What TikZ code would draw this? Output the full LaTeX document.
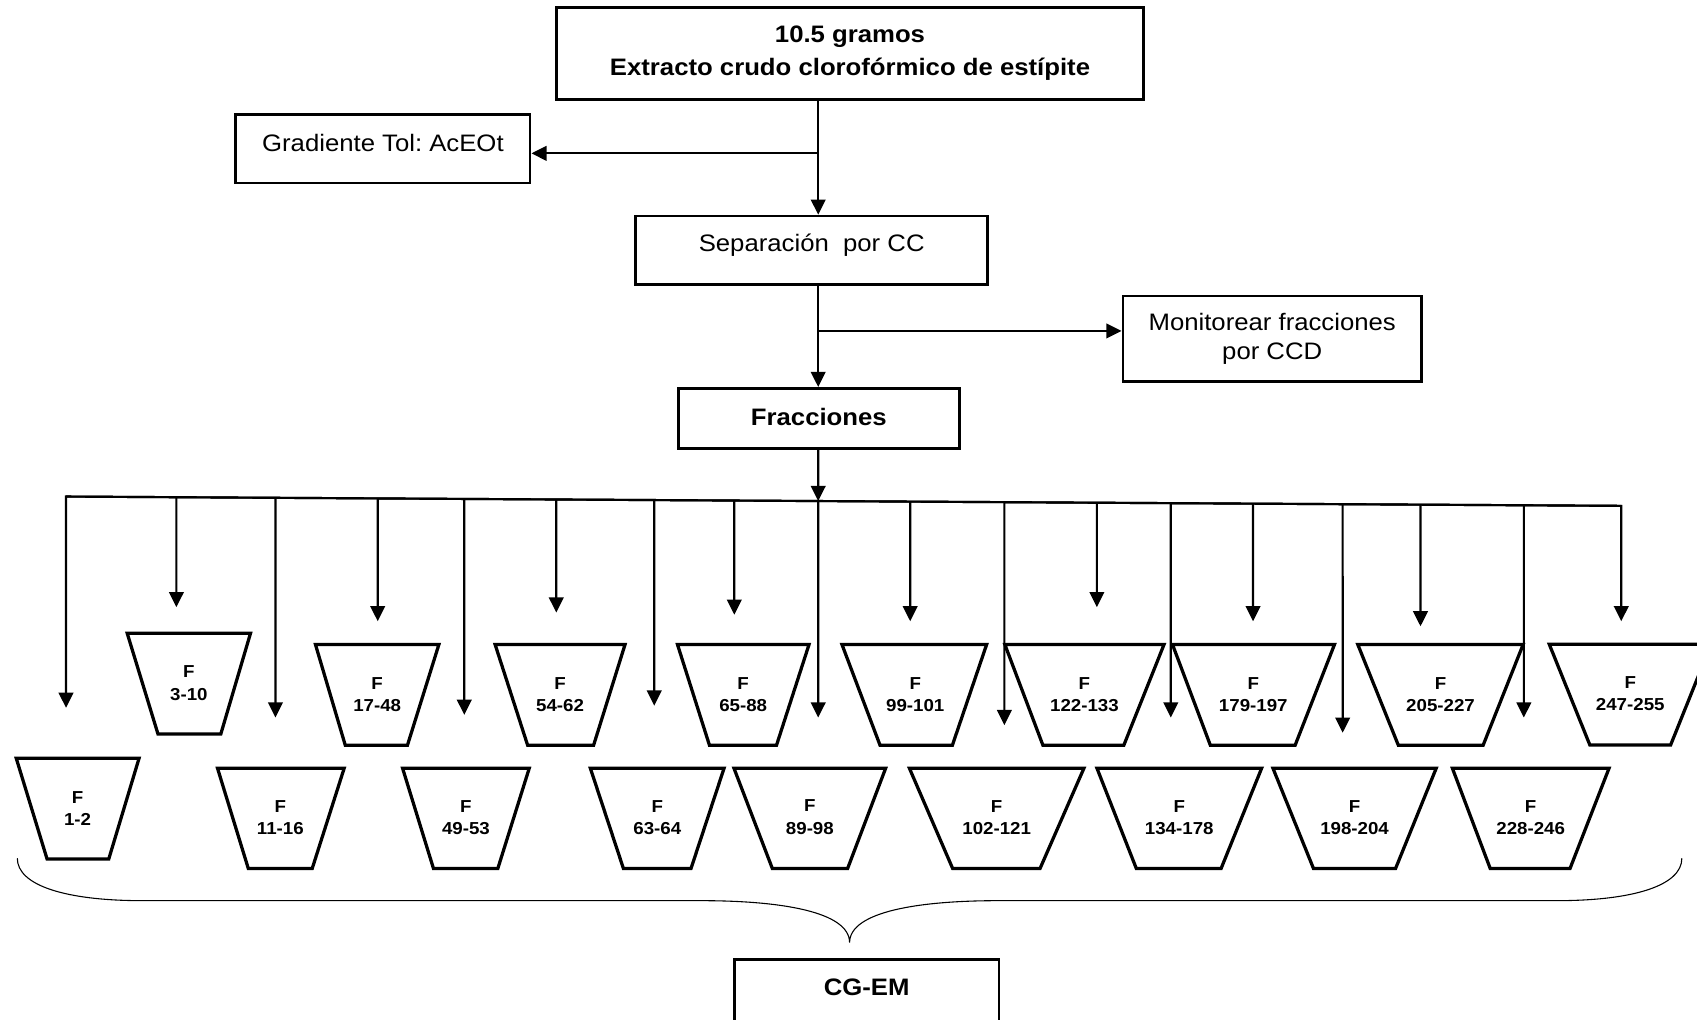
\documentclass[tikz,border=0pt]{standalone}
\usepackage{fontspec}
\setmainfont{Liberation Sans}[FakeStretch=1.08]
\usetikzlibrary{arrows.meta,calc}
\frenchspacing

\tikzset{every picture/.style={line width=2pt}}
\tikzset{
  box/.style={draw, line width=2.5pt, inner sep=0pt, font=\fontsize{22}{26}\selectfont},
  boldbox/.style={box, font=\fontsize{22}{26}\selectfont\bfseries},
  arr/.style={line width=2pt, -{Triangle[length=14pt,width=13.5pt]}},
  ftrap/.style={line width=3pt, line join=miter},
  flabel/.style={font=\fontsize{16}{20.6}\selectfont\bfseries, align=center, inner sep=0pt},
  brace/.style={line width=1pt},
}

\begin{document}
\begin{tikzpicture}[x=1pt,y=1pt,yscale=-1,xscale=1]
\useasboundingbox (0,0) rectangle (1568,942);

%Shape: Rectangle (boxes of the flow)
\node [boldbox, align=center, font=\fontsize{22}{31}\selectfont\bfseries, minimum width=542pt, minimum height=85pt] (crudo) at (785.4,49.3) {10.5 gramos\\Extracto crudo clorofórmico de estípite};
\node [box, minimum width=272pt, minimum height=63.5pt, text height=16pt, text depth=10pt] (grad) at (353.8,137.4) {Gradiente Tol: AcEOt};
\node [box, minimum width=325pt, minimum height=63.4pt, text height=16pt, text depth=14pt] (sep) at (750,231.3) {Separación\ \ por CC};
\node [box, align=center, font=\fontsize{22}{27}\selectfont, minimum width=276pt, minimum height=79pt] (moni) at (1175.5,313.1) {Monitorear fracciones\\por CCD};
\node [boldbox, minimum width=260pt, minimum height=55.4pt, text height=16pt, text depth=3pt] (frac) at (756.6,386.5) {Fracciones};
\node [boldbox, anchor=north, minimum width=244.5pt, minimum height=90pt, text height=16pt, text depth=39pt] (cgem) at (800.75,885.4) {CG-EM};

%Straight Lines (main column)
\coordinate (spine) at (756,0);
\coordinate (b1) at (756,141.7);
\coordinate (b2) at (756,305.8);
\draw [arr] (crudo.south -| spine) -- (sep.north -| spine);
\draw [arr] (b1) -- (b1 -| grad.east);
\draw [arr] (sep.south -| spine) -- (frac.north -| spine);
\draw [arr] (b2) -- (b2 -| moni.west);

%Straight Lines (distribution bar)
\coordinate (busL) at (61,458.8);
\coordinate (busR) at (1498,467.4);
\coordinate (busM) at ($(busL)!{(756-61)/1437}!(busR)$);
\coordinate (tip1) at (61,654);
\coordinate (tip18) at (1498,574);
\draw [arr] (frac.south -| spine) -- (busM);
\draw [arr] (busR) -- (busL) -- (tip1);
\draw [arr] (busL) -- (busR) -- (tip18);
\foreach \n/\x/\y in {2/163/561, 3/254.5/663, 4/349/574, 5/429/660.5, 6/514/566,
    7/604.5/652, 8/678.5/568, 9/756/663, 10/841/574, 11/928/670, 12/1013.5/561,
    13/1081.8/663, 14/1157.8/574, 15/1240.6/677, 16/1312.5/578.7, 17/1408/663}{
  \coordinate (s\n) at ($(busL)!{(\x-61)/1437}!(busR)$);
  \coordinate (tip\n) at (\x,\y);
  \draw [arr] (s\n) -- (tip\n);
}

%Shape: Trapezoid (upper row)
\draw [ftrap] (117.5,585) -- (231.5,585) -- (204,678.3) -- (146,678.3) -- cycle ;
\draw [ftrap] (291.5,595.6) -- (405.5,595.6) -- (376.5,688.5) -- (319,688.5) -- cycle ;
\draw [ftrap] (457.5,595.6) -- (577.5,595.6) -- (548.5,688.5) -- (487.5,688.5) -- cycle ;
\draw [ftrap] (626,595.6) -- (747.5,595.6) -- (717.5,688.5) -- (655.5,688.5) -- cycle ;
\draw [ftrap] (778,595.6) -- (911.6,595.6) -- (880,688.5) -- (813.1,688.5) -- cycle ;
\draw [ftrap] (928.5,595.6) -- (1075.5,595.6) -- (1038.4,688.5) -- (963.6,688.5) -- cycle ;
\draw [ftrap] (1083.4,595.6) -- (1233,595.6) -- (1196.7,688.5) -- (1118.3,688.5) -- cycle ;
\draw [ftrap] (1254.6,595.6) -- (1407.3,595.6) -- (1370.4,688.5) -- (1292,688.5) -- cycle ;
\draw [ftrap] (1431.5,595.3) -- (1581,595.3) -- (1543.6,688.4) -- (1469,688.4) -- cycle ;
%Shape: Trapezoid (lower row)
\draw [ftrap] (15,700.6) -- (128.5,700.6) -- (100.5,793.7) -- (43.5,793.7) -- cycle ;
\draw [ftrap] (201,709.9) -- (318,709.9) -- (288.5,802.4) -- (229.4,802.4) -- cycle ;
\draw [ftrap] (372,709.9) -- (489,709.9) -- (460,802.4) -- (400.5,802.4) -- cycle ;
\draw [ftrap] (545.5,709.9) -- (669,709.9) -- (638.5,802.4) -- (576,802.4) -- cycle ;
\draw [ftrap] (678.2,709.9) -- (818.3,709.9) -- (783.2,802.4) -- (713.6,802.4) -- cycle ;
\draw [ftrap] (840.3,709.9) -- (1001.5,709.9) -- (961,802.4) -- (880.2,802.4) -- cycle ;
\draw [ftrap] (1013.6,709.9) -- (1165.7,709.9) -- (1128.3,802.4) -- (1049.9,802.4) -- cycle ;
\draw [ftrap] (1176.2,709.9) -- (1327,709.9) -- (1289.5,802.4) -- (1213.6,802.4) -- cycle ;
\draw [ftrap] (1342,709.9) -- (1486.7,709.9) -- (1450.7,802.4) -- (1376.9,802.4) -- cycle ;

% Text Node
\node [flabel] (f310) at (174.5,631.3) {F\\3-10};
\node [flabel] (f1748) at (348.5,642) {F\\17-48};
\node [flabel] (f5462) at (517.5,642) {F\\54-62};
\node [flabel] (f6588) at (686.7,642) {F\\65-88};
\node [flabel] (f99101) at (845.7,642) {F\\99-101};
\node [flabel] (f122133) at (1002,642) {F\\122-133};
\node [flabel] (f179197) at (1158,642) {F\\179-197};
\node [flabel] (f205227) at (1331,642) {F\\205-227};
\node [flabel] (f247255) at (1506.3,641.1) {F\\247-255};
% Text Node
\node [flabel] (f12) at (71.7,747) {F\\1-2};
\node [flabel] (f1116) at (259,755.5) {F\\11-16};
\node [flabel] (f4953) at (430.5,755.5) {F\\49-53};
\node [flabel] (f6364) at (607.3,755.5) {F\\63-64};
\node [flabel] (f8998) at (748.3,755) {F\\89-98};
\node [flabel] (f102121) at (920.9,755.5) {F\\102-121};
\node [flabel] (f134178) at (1089.6,755.5) {F\\134-178};
\node [flabel] (f198204) at (1251.6,755.5) {F\\198-204};
\node [flabel] (f228246) at (1414.3,755.5) {F\\228-246};

%Curve Lines (brace over the fractions)
\draw [brace] (16,793) .. controls (16,818) and (60,832.2) .. (132,832.2) -- (648,832.2) .. controls (720,832.2) and (785,842) .. (785,871) .. controls (785,842) and (850,832.2) .. (922,832.2) -- (1438,832.2) .. controls (1510,832.2) and (1554,818) .. (1554,793) ;

\end{tikzpicture}
\end{document}
